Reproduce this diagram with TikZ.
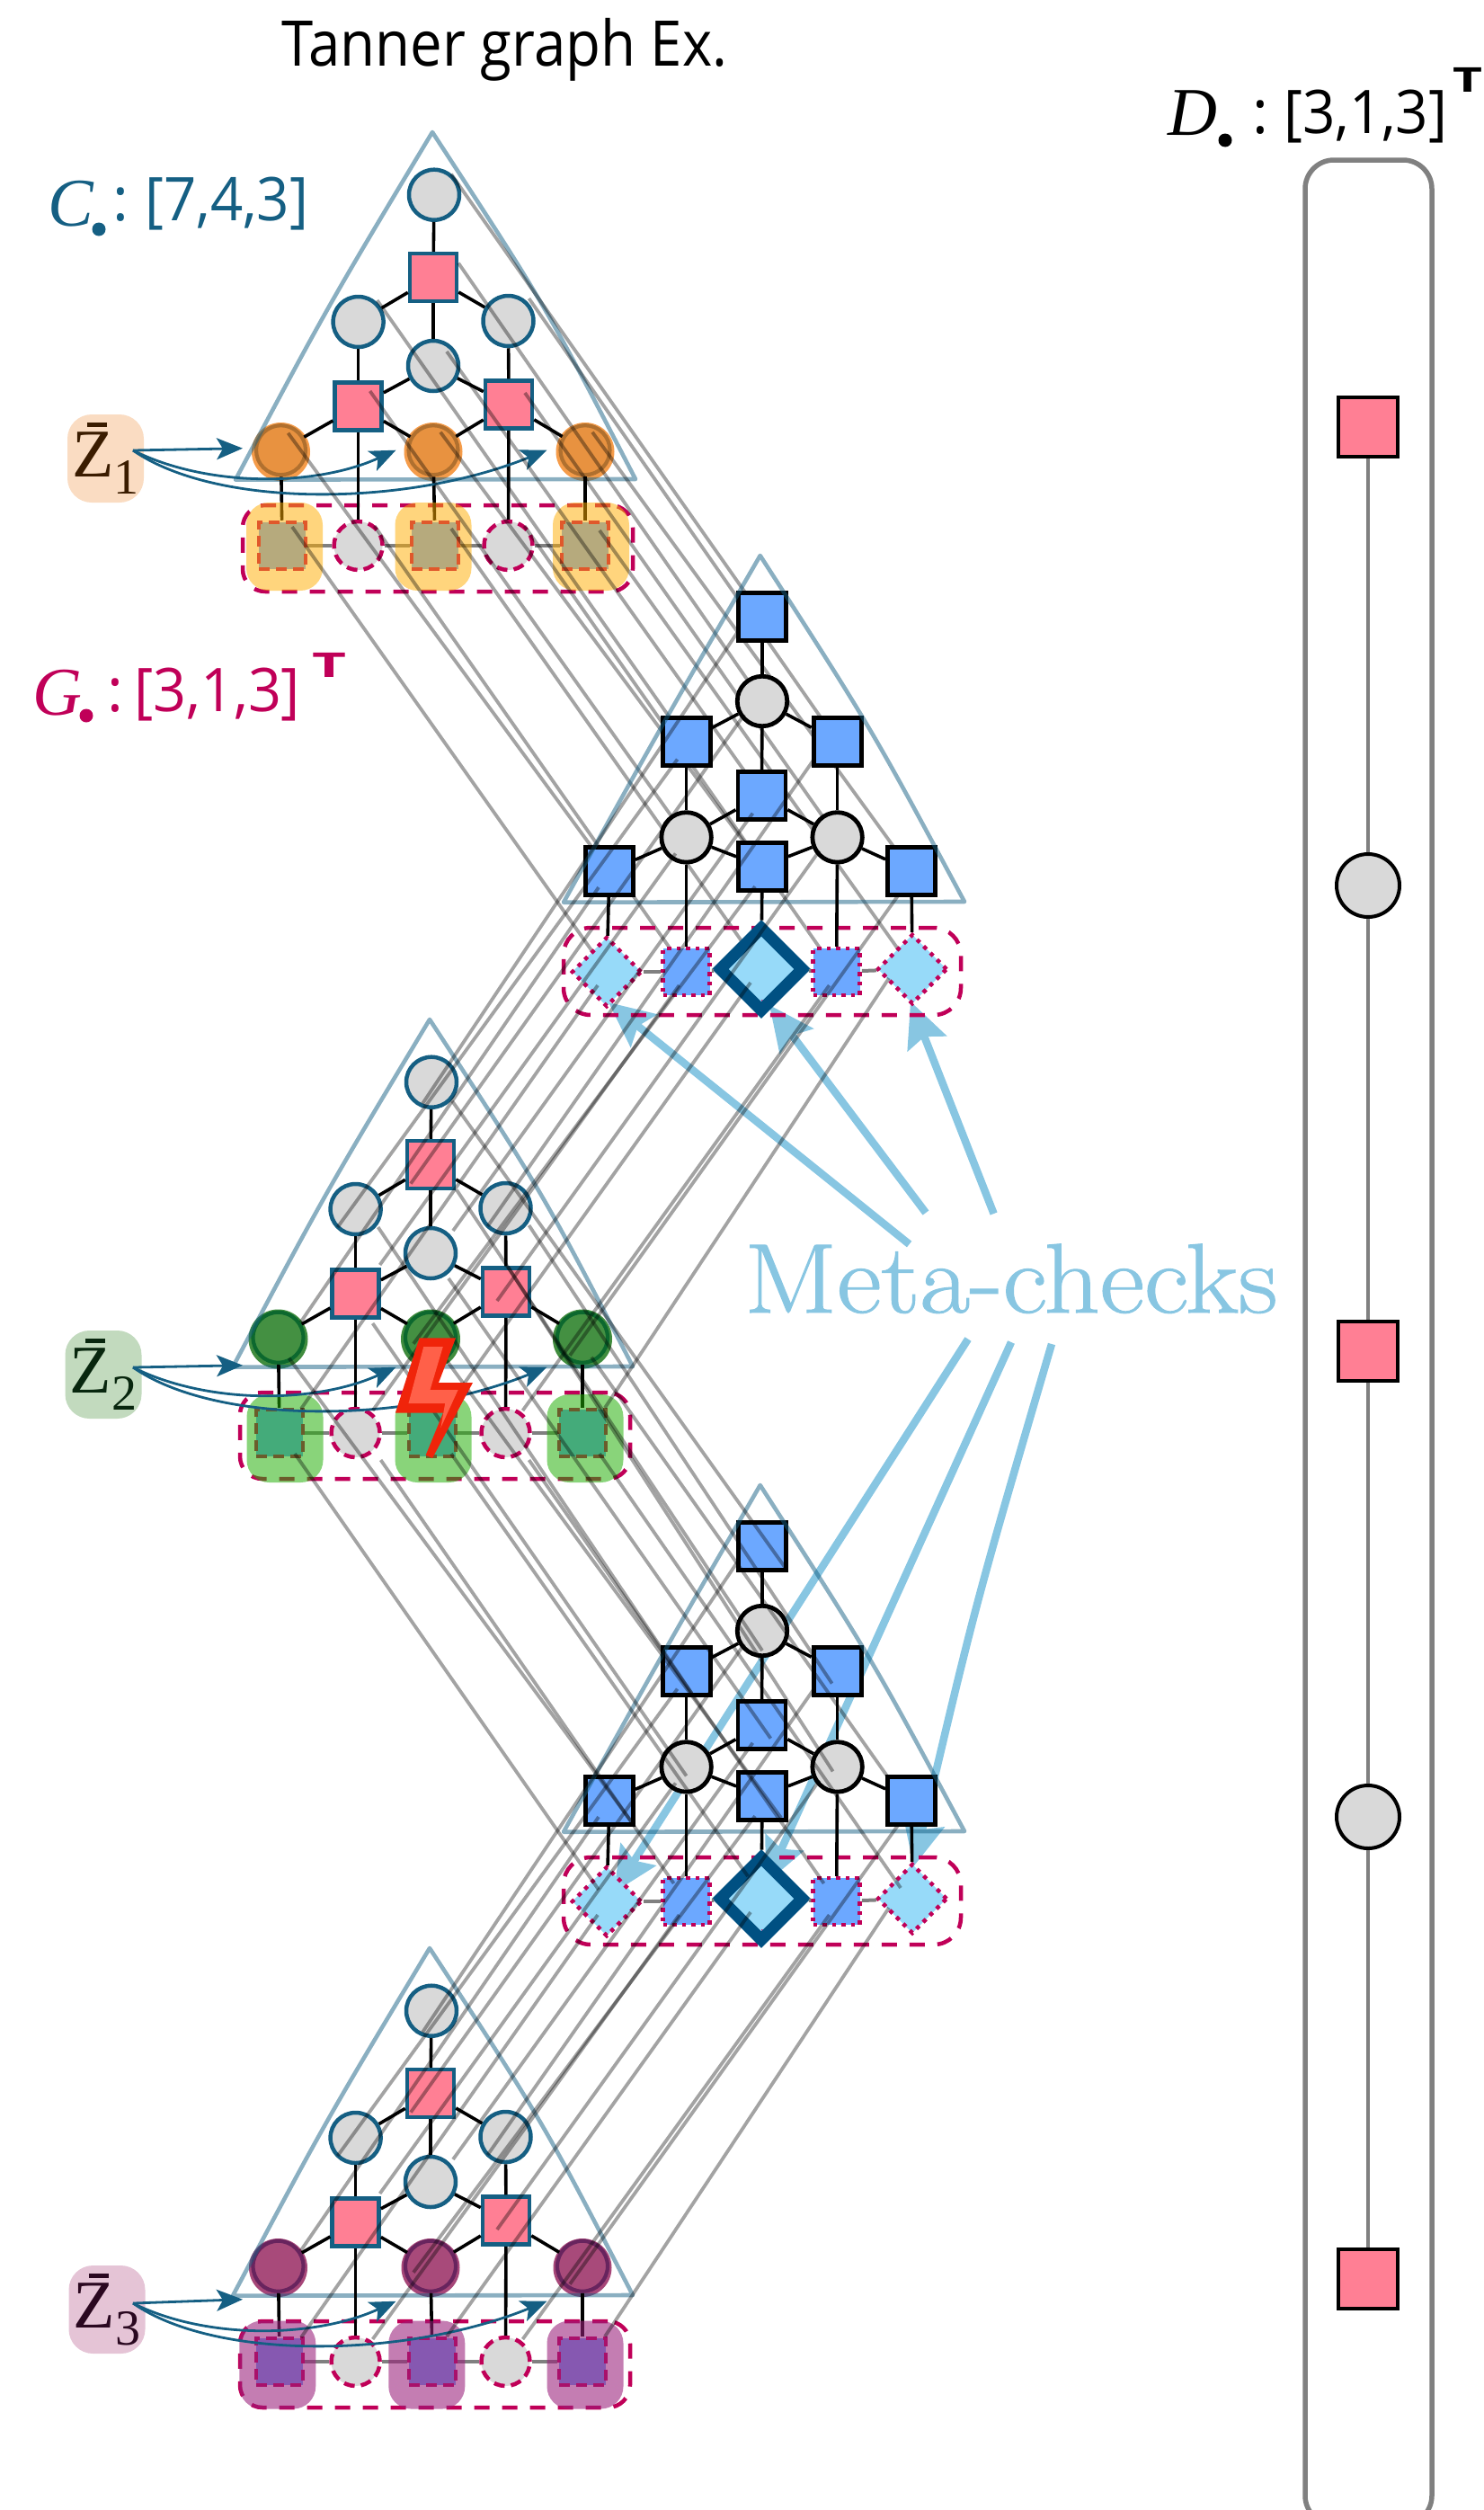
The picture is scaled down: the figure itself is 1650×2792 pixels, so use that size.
\documentclass[tikz,border=0pt]{standalone}
\usepackage{graphicx}
\usepackage{fontspec}
\usetikzlibrary{arrows.meta,shapes.geometric}
\newfontfamily\labf{Open Sans}
\newfontfamily\zf{Liberation Serif}
\newfontfamily\metaf{Latin Modern Roman}[FakeBold=1]
\definecolor{cblue}{HTML}{155F83}
\definecolor{cmag}{HTML}{C00058}
\definecolor{cgray}{HTML}{D9D9D9}
\definecolor{cpink}{HTML}{FF7F94}
\definecolor{cbluef}{HTML}{6CA8FF}
\definecolor{clight}{HTML}{97DAF9}
\definecolor{cnavy}{HTML}{005082}
\definecolor{cmeta}{HTML}{88C6E2}
\pgfdeclarelayer{arrows}
\pgfdeclarelayer{low}
\pgfdeclarelayer{mid}
\pgfsetlayers{arrows,low,mid,main}
\tikzset{
 bitn/.style={circle,draw=cblue,line width=4.5pt,fill=cgray,minimum size=56pt,inner sep=0pt},
 chkn/.style={rectangle,draw=cblue,line width=4.5pt,fill=cpink,minimum width=52pt,minimum height=53pt,inner sep=0pt},
 blues/.style={rectangle,draw=black,line width=4.8pt,fill=cbluef,minimum width=53pt,minimum height=53pt,inner sep=0pt},
 grayb/.style={circle,draw=black,line width=4.8pt,fill=cgray,minimum size=55.5pt,inner sep=0pt},
 rowsq/.style={rectangle,draw=cmag,line width=4.5pt,dash pattern=on 12pt off 7pt,fill=cbluef,minimum size=52pt,inner sep=0pt},
 rowci/.style={circle,draw=cmag,line width=4.5pt,dash pattern=on 12pt off 7pt,fill=cgray,minimum size=54pt,inner sep=0pt},
 rowdi/.style={diamond,aspect=1,draw=cmag,line width=4.5pt,dash pattern=on 4.5pt off 6pt,fill=clight,minimum size=78pt,inner sep=0pt},
 rowbs/.style={rectangle,draw=cmag,line width=4.5pt,dash pattern=on 4.5pt off 6pt,fill=cbluef,minimum size=52pt,inner sep=0pt},
 bigdi/.style={diamond,aspect=1,draw=cnavy,line width=13pt,minimum size=96.6pt,inner sep=0pt},
 edgeb/.style={draw=black,line width=3.6pt},
 edgeg/.style={draw=black!50,line width=4pt},
 grid/.style={draw=black,draw opacity=.36,line width=3.8pt},
 trishape/.style={draw=cblue,draw opacity=.5,line width=4.6pt,line join=round},
 dbox/.style={rectangle,draw=cmag,line width=4.5pt,dash pattern=on 17pt off 14pt,rounded corners=25pt,inner sep=0pt},
 hlbox/.style={rectangle,rounded corners=25pt,minimum width=85pt,minimum height=98pt,inner sep=0pt},
 hlO/.style={hlbox,fill={rgb,255:red,255;green,173;blue,0},fill opacity=.51},
 hlG/.style={hlbox,fill={rgb,255:red,33;green,174;blue,4},fill opacity=.53},
 hlP/.style={hlbox,fill={rgb,255:red,153;green,31;blue,122},fill opacity=.58},
 haloO/.style={circle,fill={rgb,255:red,245;green,156;blue,74},minimum size=65pt,inner sep=0pt},
 ringO/.style={circle,draw={rgb,255:red,176;green,112;blue,47},line width=4.2pt,fill={rgb,255:red,232;green,146;blue,64},minimum size=55pt,inner sep=0pt},
 haloG/.style={circle,fill={rgb,255:red,64;green,140;blue,62},minimum size=66pt,inner sep=0pt},
 ringG/.style={circle,draw={rgb,255:red,12;green,104;blue,46},line width=4.2pt,fill={rgb,255:red,68;green,144;blue,66},minimum size=56pt,inner sep=0pt},
 haloP/.style={circle,fill={rgb,255:red,166;green,70;blue,120},minimum size=65pt,inner sep=0pt},
 ringP/.style={circle,draw={rgb,255:red,104;green,36;blue,94},line width=4.2pt,fill={rgb,255:red,168;green,74;blue,122},minimum size=56pt,inner sep=0pt},
 zbox/.style={rectangle,rounded corners=27pt,minimum width=85pt,minimum height=98pt,inner sep=0pt},
 zarrow/.style={draw=cblue,line width=2.8pt,-{Stealth[length=29pt,width=24pt,inset=7pt]}},
 marrow/.style={draw=cmeta,line width=8.5pt,-{Stealth[length=50pt,width=46pt,inset=8pt]}},
 colln/.style={draw=black!50,line width=4pt},
 colsq/.style={rectangle,draw=black,line width=4pt,fill=cpink,minimum size=66pt,inner sep=0pt},
 colci/.style={circle,draw=black,line width=4pt,fill=cgray,minimum size=70pt,inner sep=0pt},
 lab/.style={inner sep=0pt,anchor=base west},
 dotn/.style={circle,inner sep=0pt,minimum size=15pt},
}
\newcommand{\zlab}[1]{\fontsize{76}{80}\selectfont\zf\rlap{\hspace{17pt}\rule[56pt]{22pt}{4.5pt}}Z\raisebox{-19pt}{\fontsize{56}{60}\selectfont #1}}
\newcommand{\codeblk}[4]{%
 \begin{scope}[shift={(#2,#3)}]
 \node[bitn] (#1-1) at (483,216.7) {};
 \node[chkn] (#1-2) at (482,308.6) {};
 \node[bitn] (#1-3) at (398.6,358) {};
 \node[bitn] (#1-4) at (565.5,357) {};
 \node[bitn] (#1-5) at (482,407) {};
 \node[chkn] (#1-6) at (398.6,452) {};
 \node[chkn] (#1-7) at (566,450) {};
 \node[halo#4] (#1-h8) at (312.5,502.5) {};
 \node[halo#4] (#1-h9) at (482,502.5) {};
 \node[halo#4] (#1-h10) at (651,502.5) {};
 \node[ring#4] (#1-8) at (312.5,500.7) {};
 \node[ring#4] (#1-9) at (482,500.7) {};
 \node[ring#4] (#1-10) at (651,500.7) {};
 \node[dbox,minimum width=434pt,minimum height=96pt] (#1-box) at (487,610) {};
 \node[rowsq] (#1-11) at (314,607) {};
 \node[rowci] (#1-12) at (398.6,607) {};
 \node[rowsq] (#1-13) at (484,607) {};
 \node[rowci] (#1-14) at (565.5,607) {};
 \node[rowsq] (#1-15) at (651,607) {};
 \draw[trishape] (262,533.6) .. controls (365,340) .. (481,147) .. controls (607,340) .. (707,533) -- cycle;
 \end{scope}
 \tanedges{#1}%
}
\newcommand{\metablk}[3]{%
 \begin{scope}[shift={(#2,#3)}]
 \node[blues] (#1-1) at (848,686) {};
 \node[grayb] (#1-2) at (848,780) {};
 \node[blues] (#1-3) at (763.6,824.6) {};
 \node[blues] (#1-4) at (931.6,824.6) {};
 \node[blues] (#1-5) at (847.4,884.7) {};
 \node[grayb] (#1-6) at (763.6,931.4) {};
 \node[grayb] (#1-7) at (931.6,931.4) {};
 \node[blues] (#1-8) at (678,969) {};
 \node[blues] (#1-9) at (848,964) {};
 \node[blues] (#1-10) at (1014,969) {};
 \node[dbox,rounded corners=30pt,minimum width=442pt,minimum height=97pt] (#1-box) at (848,1080.5) {};
 \node[rowdi] (#1-11) at (675,1081) {};
 \node[rowbs] (#1-12) at (763.6,1081) {};
 \node[rowdi] (#1-13i) at (844,1081) {};
 \node[diamond,aspect=1,fill=clight,minimum size=76pt,inner sep=0pt] (#1-13f) at (850,1076) {};
 \node[bigdi] (#1-13) at (847,1078) {};
 \node[rowbs] (#1-14) at (930.6,1081) {};
 \node[rowdi] (#1-15) at (1015,1078) {};
 \draw[trishape] (627,1003.7) .. controls (734,811) .. (845.7,618) .. controls (970,811) .. (1073,1003) -- cycle;
 \end{scope}
 \tanedges{#1}%
}
\newcommand{\tanedges}[1]{%
 \foreach \u/\v in {1/2,2/3,2/4,2/5,3/6,4/7,5/6,5/7,6/8,6/9,7/9,7/10,8/11,6/12,9/13,7/14,10/15}
  \draw[edgeb] (#1-\u) -- (#1-\v);
 \foreach \u/\v in {11/12,12/13,13/14,14/15}
  \draw[edgeg] (#1-\u) -- (#1-\v);
}
\newcommand{\zarrows}[5]{%
 \draw[zarrow] ([shift={#5}]#1.center) -- ([shift={(#3,#4-2)}]#2-8.center);
 \draw[zarrow] ([shift={#5}]#1.center) .. controls +(82,41) and +(-90,41) .. ([shift={(#3+1,#4)}]#2-9.center);
 \draw[zarrow] ([shift={#5}]#1.center) .. controls +(92,64) and +(-158,64) .. ([shift={(#3,#4)}]#2-10.center);
}
\newcommand{\bolt}{%
 \fill[fill={rgb,255:red,240;green,36;blue,10}] (466.5,1488.4) -- (507,1488.4) -- (488,1538) -- (526,1538) -- (481,1622) -- (473.7,1618.5) -- (493,1571.5) -- (440,1571.5) -- cycle;
 \fill[fill={rgb,255:red,255;green,96;blue,73}] (471.3,1498) -- (492.8,1498) -- (478.5,1546) -- (509.6,1546) -- (490.4,1588) -- (495.2,1561) -- (454.5,1561) -- cycle;
}
\begin{document}
\begin{tikzpicture}[x=1pt,y=-1pt]
\useasboundingbox (0,0) rectangle (1650,2792);
% right column
\begin{scope}
 \clip (0,0) rectangle (1650,2792);
 \node[rectangle,draw=black!50,line width=5.5pt,rounded corners=32pt,minimum width=141pt,minimum height=2630pt,inner sep=0pt] (colbox) at (1522.5,1493) {};
\end{scope}
\node[colsq] (r1) at (1522,475) {};
\node[colci] (r2) at (1522,985) {};
\node[colsq] (r3) at (1522,1503) {};
\node[colci] (r4) at (1522,2021) {};
\node[colsq] (r5) at (1522,2535) {};
\draw[colln] (r1) -- (r2);
\draw[colln] (r2) -- (r3);
\draw[colln] (r3) -- (r4);
\draw[colln] (r4) -- (r5);
% Z boxes
\begin{pgfonlayer}{low}
\node[zbox,fill={rgb,255:red,250;green,220;blue,194},text={rgb,255:red,58;green,28;blue,0}] (z1) at (117.5,510) {\zlab{1}};
\codeblk{a}{0}{0}{O}
\node[hlO] (ha1) at (316.5,608) {};
\node[hlO] (ha2) at (482,608) {};
\node[hlO] (ha3) at (657.5,608) {};
\zarrows{z1}{a}{-42.5}{0}{(30.5,-9)}
\end{pgfonlayer}
\node[zbox,fill={rgb,255:red,194;green,218;blue,190},text={rgb,255:red,8;green,38;blue,14}] (z2) at (115,1529) {\zlab{2}};
\node[zbox,fill={rgb,255:red,229;green,196;blue,214},text={rgb,255:red,42;green,8;blue,32}] (z3) at (119,2569) {\zlab{3}};
% code blocks
\codeblk{c}{-3}{987}{G}
\codeblk{e}{-3}{2020}{P}
% highlights
\node[hlG] (hc1) at (317,1600) {};
\node[hlG] (hc2) at (482,1600) {};
\node[hlG] (hc3) at (651,1600) {};
\node[hlP] (he1) at (308.75,2630.5) {};
\node[hlP] (he2) at (474.8,2630.5) {};
\node[hlP] (he3) at (651,2630.5) {};
\zarrows{z2}{c}{-39.5}{33}{(33,-8)}
\zarrows{z3}{e}{-39.5}{39}{(29,-7)}
\metablk{b}{0}{0}
\metablk{d}{0}{1034}
% Meta-checks label
\node[lab,text=cmeta] (meta) at (828,1460) {\resizebox{593pt}{\height}{\fontsize{110}{120}\metaf Meta-checks}};
\coordinate (m6) at (1085,1785);
\begin{pgfonlayer}{arrows}
 \draw[marrow] ([shift={(183.6,-76)}]meta.base west) -- ([shift={(2,34)}]b-11.center);
 \draw[marrow] ([shift={(202,-111)}]meta.base west) -- ([shift={(9,40)}]b-13.center);
 \draw[marrow] ([shift={(277.6,-110)}]meta.base west) -- ([shift={(-2,36)}]b-15.center);
 \draw[marrow] ([shift={(249,29.5)}]meta.base west) -- ([shift={(8,-10)}]d-11.center);
 \draw[marrow] ([shift={(297,33)}]meta.base west) -- ([shift={(5,-17)}]d-13.center);
 \draw[marrow] ([shift={(342,35)}]meta.base west) .. controls (m6) .. ([shift={(1.5,-36)}]d-15.center);
\end{pgfonlayer}
% connectors between the layers
\begin{pgfonlayer}{mid}
\foreach \i/\dx/\dy in {1/19/-23,2/28/-16,3/21/-24,4/23/-25,5/15/-16,6/13/-17,7/18/-13,8/8/-19,9/8/-20,10/8/-20,11/11/-21,12/18/-22,13/18/-19,14/18/-22,15/16/-17}
 \draw[grid] ([shift={(\dx,\dy)}]a-\i.center) -- (b-\i.center);
\end{pgfonlayer}
\foreach \i/\dx/\dy/\ex/\ey in {1/-10/24/-26/15,2/-22/21/-20/15,3/-20/20/-10/20,4/-20/20/-26/20,5/25/-25/-10/20,6/27/-32/-12/18,7/-10/10/-20/15,8/25/-17/-12/18,9/-19/7/-8/22,10/-14/20/-14/26,11/24/-27/-10/15,12/19/-25/-8/15,13/16/-28/-12/15,14/19/-25/-8/15,15/25/-28/-26/10}
 {
 \draw[grid] ([shift={(\dx,\dy)}]c-\i.center) -- ([shift={(\ex,\ey)}]b-\i.center);
 \draw[grid] ([shift={(\dx,\dy)}]e-\i.center) -- ([shift={(\ex,\ey)}]d-\i.center);
 }
\foreach \i/\dx/\dy/\ex/\ey in {1/23/21/25/23,2/29/28/0/22,3/25/20/6/25,4/26/19/-6/14,5/20/28/10/15,6/19/33/0/10,7/2/-28/-5/5,8/12/23/25/24,9/16/23/21/24,10/10/22/-26/-26,11/17/23/-9/-13,12/28/30/-14/-20,13/21/23/-15/-25,14/26/30/-14/-20,15/19/23/-13/-12}
 \draw[grid] ([shift={(\dx,\dy)}]c-\i.center) -- ([shift={(\ex,\ey)}]d-\i.center);
% bolt
\bolt
% labels
\node[lab] (title) at (313,73) {\resizebox{496pt}{\height}{\fontsize{70}{80}\labf Tanner graph Ex.}};
\node[lab,text=cblue] (cl) at (53,251) {\fontsize{76}{80}\zf\itshape C};
\node[dotn,fill=cblue] (cd) at (110,255) {};
\node[lab,text=cblue,anchor=base] (cc) at (134,245) {\fontsize{67}{70}\labf :};
\node[lab,text=cblue] (cb) at (161,245) {\resizebox{182pt}{\height}{\fontsize{67}{70}\labf [7,4,3]}};
\node[lab,text=cmag] (gl) at (36,795) {\fontsize{76}{80}\zf\itshape G};
\node[dotn,fill=cmag] (gd) at (96,796) {};
\node[lab,text=cmag,anchor=base] (gc) at (128,791) {\fontsize{67}{70}\labf :};
\node[lab,text=cmag] (gb) at (149,791) {\resizebox{185pt}{\height}{\fontsize{67}{70}\labf [3,1,3]}};
\node[lab,text=cmag] (gt) at (347,753) {\resizebox{38pt}{\height}{\fontsize{38}{40}\labf\bfseries T}};
\node[lab] (dl) at (1299,150) {\fontsize{76}{80}\zf\itshape D};
\node[dotn,fill=black] (dd) at (1363,156) {};
\node[lab,anchor=base] (dc) at (1402,148) {\fontsize{67}{70}\labf :};
\node[lab] (db) at (1428,148) {\resizebox{182pt}{\height}{\fontsize{67}{70}\labf [3,1,3]}};
\node[lab] (dt) at (1616,102) {\resizebox{33pt}{\height}{\fontsize{38}{40}\labf\bfseries T}};
\end{tikzpicture}
\end{document}
